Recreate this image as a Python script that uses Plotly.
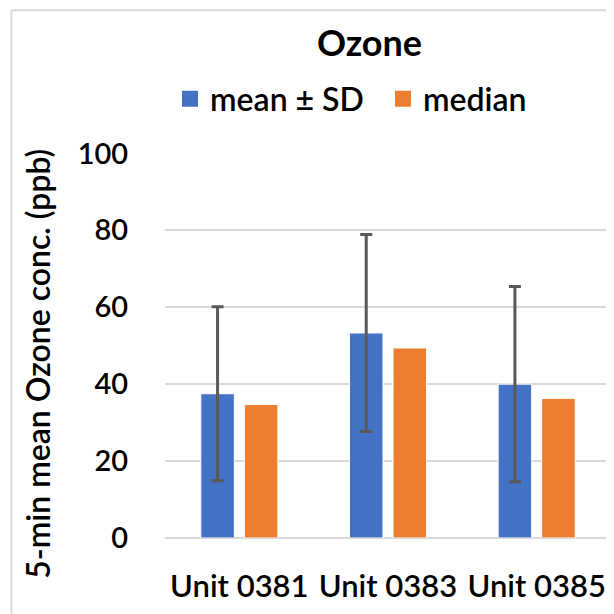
import plotly.graph_objects as go

units = ["Unit 0381", "Unit 0383", "Unit 0385"]
mean_vals = [37.5, 53.3, 40.0]
sd_vals = [22.6, 25.6, 25.4]
median_vals = [34.7, 49.4, 36.3]

FONT = "Lato"
BLUE = "#4472C4"
ORANGE = "#ED7D31"

fig = go.Figure()

fig.add_trace(go.Bar(
    x=units, y=mean_vals, name="mean ± SD", showlegend=False,
    marker=dict(color=BLUE, line=dict(color="white", width=1)),
    error_y=dict(type="data", array=sd_vals, visible=True,
                 color="#595959", thickness=3, width=6),
))
fig.add_trace(go.Bar(
    x=units, y=median_vals, name="median", showlegend=False,
    marker=dict(color=ORANGE, line=dict(color="white", width=1)),
))

# legend keys as plain squares (bar keys are too small)
for name, col in [("mean ± SD", BLUE), ("median", ORANGE)]:
    fig.add_trace(go.Scatter(x=[None], y=[None], mode="markers", name=name,
                             marker=dict(symbol="square", size=16, color=col)))

# faint frame of the original picture
frame = [
    dict(type="line", xref="paper", yref="paper", x0=-0.342, x1=1.02,
         y0=1.372, y1=1.372, line=dict(color="#d9d9d9", width=2), layer="below"),
    dict(type="line", xref="paper", yref="paper", x0=-0.342, x1=-0.342,
         y0=1.372, y1=-0.22, line=dict(color="#d9d9d9", width=2), layer="below"),
]

fig.update_layout(
    width=614, height=614,
    margin=dict(l=157, r=8, t=144, b=84),
    paper_bgcolor="white", plot_bgcolor="white",
    barmode="group", bargap=0.414, bargroupgap=0.23,
    title=dict(text="<b>Ozone</b>", x=361.5 / 614, xref="container", xanchor="center",
               y=1 - 35 / 614, yref="container", yanchor="middle",
               font=dict(family=FONT, size=36, color="black")),
    legend=dict(orientation="h", x=375 / 614, xref="container", xanchor="center",
                y=1 - 91 / 614, yref="container", yanchor="middle",
                font=dict(family=FONT, size=32, color="black", weight=600),
                itemwidth=30, entrywidth=168, bgcolor="rgba(0,0,0,0)"),
    xaxis=dict(range=[-0.5, 2.52], showgrid=False, showline=False,
               ticks="outside", ticklen=21, tickcolor="rgba(0,0,0,0)",
               tickfont=dict(family=FONT, size=31, color="black", weight=600)),
    yaxis=dict(range=[0, 100], dtick=20, showgrid=True, gridcolor="#d9d9d9",
               gridwidth=2, zeroline=True, zerolinecolor="#d9d9d9", zerolinewidth=2,
               showline=False, ticks="outside", ticklen=30, tickcolor="rgba(0,0,0,0)",
               tickfont=dict(family=FONT, size=29, color="black", weight=600)),
    annotations=[dict(text="5-min mean Ozone conc. (ppb)", textangle=-90,
                      xref="paper", yref="paper", x=-0.283, y=0.453,
                      xanchor="center", yanchor="middle", showarrow=False,
                      font=dict(family=FONT, size=32, color="black", weight=600))],
    shapes=frame,
)

fig.write_html("out.html")
